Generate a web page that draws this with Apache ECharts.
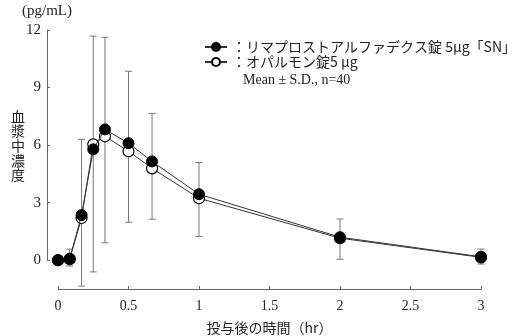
<!DOCTYPE html>
<html><head><meta charset="utf-8">
<script src="https://cdn.jsdelivr.net/npm/echarts@6/dist/echarts.min.js"></script>
<style>html,body{margin:0;padding:0;background:#fff}#c{width:522px;height:336px}</style>
</head><body><div id="c"></div>
<script>
var times = [0, 0.083, 0.167, 0.25, 0.333, 0.5, 0.667, 1, 2, 3];
var testMean = [0, 0.08, 2.35, 5.78, 6.82, 6.1, 5.15, 3.44, 1.2, 0.18];
var refMean = [0, 0.05, 2.2, 6.04, 6.46, 5.68, 4.79, 3.23, 1.15, 0.15];
var testSD = [0, 0.5, 3.95, 5.9, 4.8, 3.75, 2.5, 1.65, 0.95, 0.4];
var refSD = [0, 0.35, 3.55, 6.65, 5.55, 3.7, 2.65, 2.0, 1.1, 0.35];
var xTicks = [0, 0.5, 1, 1.5, 2, 2.5, 3];
var yTicks = [0, 3, 6, 9, 12];
var testName = 'リマプロストアルファデクス錠 5μg「SN」';
var refName = 'オパルモン錠5 μg';

var serif = '"Liberation Serif","DejaVu Serif",serif';
var cjk = '"Noto Sans CJK JP","Liberation Serif",serif';

var testData = times.map(function(t,i){return [t,testMean[i]];});
var refData = times.map(function(t,i){return [t,refMean[i]];});
var errData = [];
times.forEach(function(t,i){
  if (testSD[i] > 0 || refSD[i] > 0) errData.push([t, testMean[i]+testSD[i], refMean[i]-refSD[i]]);
});

var chart = echarts.init(document.getElementById('c'));
chart.setOption({
  animation:false,
  grid:[
    {left:58, right:41, top:30, height:259, outerBoundsMode:'none', containLabel:false},
    {left:47, width:1, top:30, height:230.2, outerBoundsMode:'none', containLabel:false}
  ],
  xAxis:[
    {gridIndex:0, type:'value', min:0, max:3, interval:0.5, position:'bottom',
     axisLine:{show:true, onZero:false, lineStyle:{color:'#666', width:1}},
     axisTick:{show:true, inside:true, length:3, lineStyle:{color:'#666'}},
     axisLabel:{color:'#222', fontFamily:serif, fontSize:14, margin:10},
     splitLine:{show:false},
     name:'投与後の時間（hr）', nameLocation:'middle', nameGap:32,
     nameTextStyle:{color:'#222', fontFamily:cjk, fontSize:14}},
    {gridIndex:1, type:'value', min:0, max:1, show:false}
  ],
  yAxis:[
    {gridIndex:0, type:'value', min:-1.5, max:12, show:false},
    {gridIndex:1, type:'value', min:0, max:12, interval:3,
     axisLine:{show:true, lineStyle:{color:'#666', width:1}},
     axisTick:{show:true, inside:true, length:3, lineStyle:{color:'#666'}},
     axisLabel:{color:'#222', fontFamily:serif, fontSize:15, margin:6},
     splitLine:{show:false}}
  ],
  legend:{
    orient:'vertical', left:199, top:35, itemGap:1, itemWidth:22, itemHeight:10,
    data:[testName, refName],
    formatter:function(n){return '：'+n;},
    textStyle:{color:'#222', fontFamily:cjk, fontSize:14}
  },
  graphic:[
    {type:'text', left:243, top:73, style:{text:'Mean ± S.D., n=40', fill:'#222', fontSize:14, fontFamily:serif}},
    {type:'text', left:22, top:4, style:{text:'(pg/mL)', fill:'#222', fontSize:15, fontFamily:serif}},
    {type:'text', left:11, top:109, style:{text:'血\n漿\n中\n濃\n度', fill:'#222', fontSize:14, fontFamily:cjk, lineHeight:14.7}}
  ],
  series:[
    {type:'custom', name:'err', xAxisIndex:0, yAxisIndex:0, z:1, silent:true,
     data:errData,
     renderItem:function(params, api){
       var x = api.value(0);
       var top = api.coord([x, api.value(1)]);
       var bot = api.coord([x, api.value(2)]);
       var w = 3.5;
       var st = {stroke:'#777', lineWidth:1};
       return {type:'group', children:[
         {type:'line', shape:{x1:top[0],y1:top[1],x2:bot[0],y2:bot[1]}, style:st},
         {type:'line', shape:{x1:top[0]-w,y1:top[1],x2:top[0]+w,y2:top[1]}, style:st},
         {type:'line', shape:{x1:bot[0]-w,y1:bot[1],x2:bot[0]+w,y2:bot[1]}, style:st}
       ]};
     }},
    {type:'line', name:refName, xAxisIndex:0, yAxisIndex:0, data:refData, z:3,
     symbol:'circle', symbolSize:11,
     lineStyle:{color:'#333', width:1},
     itemStyle:{color:'#fff', borderColor:'#000', borderWidth:1.2}},
    {type:'line', name:testName, xAxisIndex:0, yAxisIndex:0, data:testData, z:4,
     symbol:'circle', symbolSize:11,
     lineStyle:{color:'#333', width:1},
     itemStyle:{color:'#000', borderColor:'#000', borderWidth:1}}
  ]
});
</script></body></html>
